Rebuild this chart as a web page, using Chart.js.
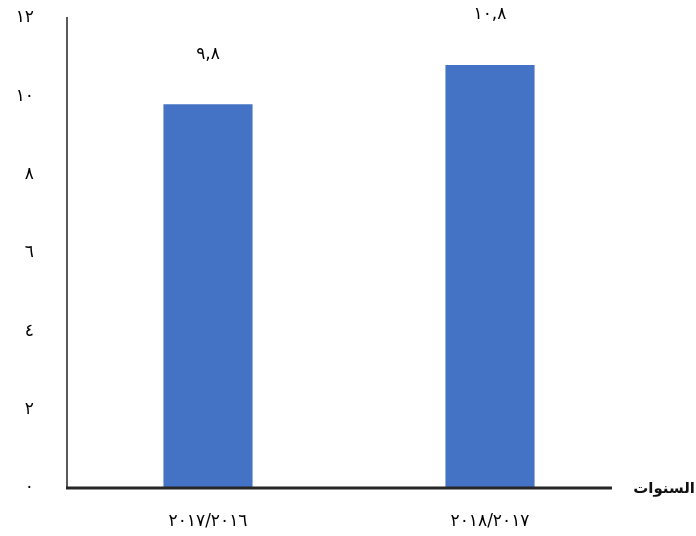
<!DOCTYPE html>
<html>
<head>
<meta charset="utf-8">
<script src="https://cdn.jsdelivr.net/npm/chart.js@4"></script>
<style>
  html, body { margin: 0; padding: 0; background: #fff; }
  #wrap { width: 696px; height: 536px; }
</style>
</head>
<body>
<div id="wrap"><canvas id="c" width="696" height="536"></canvas></div>
<script>
const categories = ['٢٠١٧/٢٠١٦', '٢٠١٨/٢٠١٧'];
const values = [9.8, 10.8];
const valueLabels = ['٩,٨', '١٠,٨'];
const yTickLabels = { 0: '٠', 2: '٢', 4: '٤', 6: '٦', 8: '٨', 10: '١٠', 12: '١٢' };
const xAxisTitle = 'السنوات';

const FONT = "'DejaVu Sans', 'Liberation Serif', serif";

const extras = {
  id: 'extras',
  afterDatasetsDraw(chart) {
    const ctx = chart.ctx;
    const area = chart.chartArea;
    ctx.save();
    ctx.strokeStyle = '#262626';
    ctx.lineWidth = 3;
    ctx.beginPath();
    ctx.moveTo(area.left - 1, area.bottom);
    ctx.lineTo(area.right - 19, area.bottom);
    ctx.stroke();
    ctx.fillStyle = '#000';
    ctx.font = "17px " + FONT;
    ctx.textAlign = 'center';
    ctx.textBaseline = 'middle';
    const meta = chart.getDatasetMeta(0);
    meta.data.forEach((bar, i) => {
      ctx.fillText(valueLabels[i], bar.x, bar.y - 50);
    });
    ctx.font = "bold 15px " + FONT;
    ctx.fillStyle = '#111';
    ctx.textAlign = 'right';
    ctx.fillText(xAxisTitle, 695, area.bottom + 1);
    ctx.restore();
  }
};

new Chart(document.getElementById('c'), {
  type: 'bar',
  data: {
    labels: categories,
    datasets: [{
      data: values,
      backgroundColor: '#4472C4',
      borderWidth: 0,
      barPercentage: 0.316,
      categoryPercentage: 1
    }]
  },
  options: {
    responsive: false,
    animation: false,
    devicePixelRatio: 1,
    layout: { padding: { top: 18, left: 0, right: 65, bottom: 0 } },
    plugins: { legend: { display: false }, tooltip: { enabled: false } },
    scales: {
      x: {
        grid: { display: false, drawTicks: false },
        border: { display: false },
        ticks: { color: '#000', font: { size: 17, family: FONT }, padding: 23, maxRotation: 0 },
        afterFit(s) { s.height = 48; s.paddingLeft = 0; s.paddingRight = 0; }
      },
      y: {
        min: 0, max: 12,
        grid: { display: false, drawTicks: false },
        border: { display: true, color: '#5a5a5a', width: 2 },
        ticks: {
          stepSize: 2,
          color: '#000',
          font: { size: 17, family: FONT },
          padding: 33,
          callback: (v) => yTickLabels[v] !== undefined ? yTickLabels[v] : ''
        },
        afterFit(s) { s.width = 67; s.paddingTop = 0; s.paddingBottom = 0; }
      }
    }
  },
  plugins: [extras]
});
</script>
</body>
</html>
